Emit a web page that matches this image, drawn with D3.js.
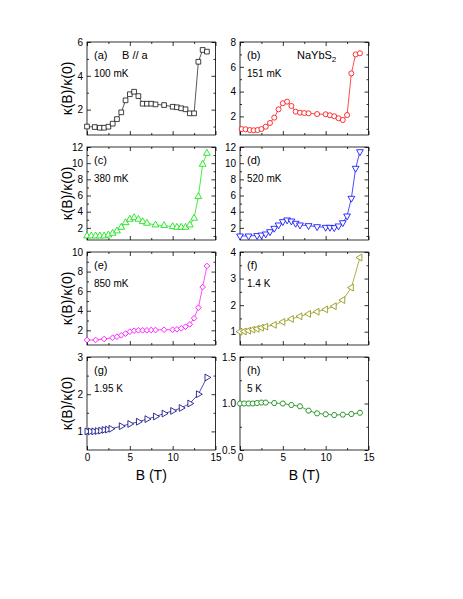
<!DOCTYPE html>
<head>
  <meta charset="utf-8">
  <title>kappa(B)/kappa(0)</title>
  <script src="https://d3js.org/d3.v7.min.js"></script>
  <style>
    body { margin: 0; background: #fff; }
    text { font-family: 'Liberation Sans', Arial, sans-serif; fill: #000; }
    .frame { fill: none; stroke: #000; stroke-width: 0.8; }
    .axis path.domain { display: none; }
    .axis line { stroke: #000; stroke-width: 0.8; }
    .axis text { font-size: 10px; font-family: 'Liberation Sans', Arial, sans-serif; }
    .axis-title { font-size: 14px; }
    .tag { font-size: 11px; }
    .temp { font-size: 10px; }
  </style>
</head>
<body>
<script>
// field values (T) and kappa(B)/kappa(0)
var fieldA = [0, 0.9, 1.5, 2, 2.5, 3, 3.5, 4, 4.5, 5, 5.5, 6, 6.5, 7, 7.5, 8, 9, 10, 10.5, 11, 11.5, 12, 12.5, 13, 13.5, 14];
var kappaA = [1.0, 0.97, 0.93, 0.93, 0.99, 1.17, 1.44, 1.84, 2.55, 2.91, 3.06, 2.8, 2.35, 2.35, 2.35, 2.31, 2.27, 2.17, 2.14, 2.08, 2.02, 1.78, 1.78, 4.83, 5.53, 5.43];

var fieldB = [0.2, 0.65, 1.15, 1.6, 2.05, 2.5, 3, 3.5, 4, 4.5, 5, 5.5, 6, 6.5, 7, 7.5, 8, 9, 10, 10.5, 11, 11.5, 12, 12.5, 13, 13.5, 14];
var kappaB = [0.98, 0.96, 0.9, 0.88, 0.9, 0.98, 1.17, 1.47, 1.9, 2.57, 3.06, 3.19, 2.84, 2.38, 2.3, 2.27, 2.25, 2.19, 2.17, 2.09, 2.01, 1.85, 1.71, 2.11, 5.47, 7.0, 7.09];

var fieldC = [0, 0.5, 1, 1.5, 2, 2.5, 3, 3.5, 4, 4.5, 5, 5.5, 6, 6.5, 7, 8, 9, 10, 10.5, 11, 11.5, 12, 12.5, 13, 13.5, 14];
var kappaC = [1.0, 1.0, 1.0, 1.0, 1.0, 1.12, 1.33, 1.62, 2.07, 2.64, 3.06, 3.26, 3.06, 2.77, 2.57, 2.36, 2.28, 2.15, 2.07, 2.07, 2.07, 2.36, 3.19, 5.86, 9.86, 11.22];

var fieldD = [0, 1, 2, 2.5, 3, 3.5, 4, 4.5, 5, 5.5, 6, 6.5, 7, 8, 9, 10, 10.5, 11, 11.5, 12, 12.5, 13, 13.5, 14];
var kappaD = [1.0, 1.0, 1.05, 1.12, 1.25, 1.53, 1.95, 2.36, 2.77, 2.98, 2.85, 2.57, 2.36, 2.28, 2.15, 2.07, 2.07, 2.03, 2.24, 2.64, 3.47, 5.66, 9.37, 11.42];

var fieldE = [0, 1, 2, 3, 3.5, 4, 4.5, 5, 5.5, 6, 6.5, 7, 7.5, 8, 9, 10, 10.5, 11, 11.5, 12, 12.5, 13, 13.5, 14];
var kappaE = [1.01, 1.01, 1.11, 1.25, 1.35, 1.49, 1.66, 1.86, 1.96, 2.0, 2.0, 2.0, 2.03, 2.03, 2.06, 2.06, 2.1, 2.2, 2.37, 2.61, 3.23, 4.31, 6.42, 8.57];

var fieldF = [0, 0.5, 1, 1.5, 2, 2.5, 3, 4, 5, 6, 7, 8, 9, 10, 11, 12, 13, 14];
var kappaF = [1.0, 1.01, 1.04, 1.08, 1.11, 1.15, 1.19, 1.26, 1.37, 1.48, 1.58, 1.67, 1.75, 1.84, 1.96, 2.19, 2.66, 3.79];

var fieldG = [0, 0.4, 0.8, 1.2, 1.6, 2.0, 2.4, 2.8, 4, 5, 6, 7, 8, 9, 10, 11, 12, 13, 14];
var kappaG = [1.0, 1.0, 1.0, 1.01, 1.02, 1.04, 1.05, 1.07, 1.14, 1.2, 1.26, 1.33, 1.4, 1.48, 1.55, 1.63, 1.75, 2.0, 2.45];

var fieldH = [0, 0.5, 1, 1.5, 2, 2.5, 3, 4, 5, 6, 7, 8, 9, 10, 11, 12, 13, 14];
var kappaH = [1.0, 1.0, 1.0, 1.0, 1.005, 1.01, 1.01, 1.005, 1.0, 0.984, 0.97, 0.923, 0.894, 0.884, 0.876, 0.88, 0.887, 0.9];

var tags = ["(a)", "(b)", "(c)", "(d)", "(e)", "(f)", "(g)", "(h)"];
var temps = ["100 mK", "151 mK", "380 mK", "520 mK", "850 mK", "1.4 K", "1.95 K", "5 K"];

// axis ranges and tick labels
var xMajor = [0, 5, 10, 15];
var xMinor = [2.5, 7.5, 12.5];
var yMin = 0.5;
var yMax = [6, 8, 12, 12, 10, 4, 3, 1.5];
var yMajor = [[2, 4, 6], [2, 4, 6, 8], [2, 4, 6, 8, 10, 12], [2, 4, 6, 8, 10, 12],
              [2, 4, 6, 8, 10], [1, 2, 3, 4], [1, 2, 3], [0.5, 1.0, 1.5]];
var yMinor = [[1, 3, 5], [1, 3, 5, 7], [1, 3, 5, 7, 9, 11], [1, 3, 5, 7, 9, 11],
              [1, 3, 5, 7, 9], [1.5, 2.5, 3.5], [1.5, 2.5], [0.75, 1.25]];

var fields = [fieldA, fieldB, fieldC, fieldD, fieldE, fieldF, fieldG, fieldH];
var kappas = [kappaA, kappaB, kappaC, kappaD, kappaE, kappaF, kappaG, kappaH];

// hexagon marker for the last panel
var symbolHexagon = {
  draw: function(ctx, size) {
    var r = Math.sqrt(size / 2.598);
    for (var i = 0; i < 6; i++) {
      var a = i * Math.PI / 3;
      if (i === 0) ctx.moveTo(r * Math.cos(a), r * Math.sin(a));
      else ctx.lineTo(r * Math.cos(a), r * Math.sin(a));
    }
    ctx.closePath();
  }
};

var looks = [
  {color: "#111111", sym: d3.symbolSquare,   size: 22, rot: 0},
  {color: "#ff0000", sym: d3.symbolCircle,   size: 20, rot: 0},
  {color: "#00e000", sym: d3.symbolTriangle, size: 20, rot: 0},
  {color: "#0000ff", sym: d3.symbolTriangle, size: 20, rot: 180},
  {color: "#ff00ff", sym: d3.symbolSquare,   size: 16, rot: 45},
  {color: "#8c8c00", sym: d3.symbolTriangle, size: 20, rot: -90},
  {color: "#000080", sym: d3.symbolTriangle, size: 20, rot: 90},
  {color: "#008000", sym: symbolHexagon,     size: 20, rot: 0}
];

var colX = [87, 240], rowY = [42, 147, 252, 357];
var pw = 128.5, ph = 93;

var svg = d3.select("body").append("svg")
  .attr("width", 463)
  .attr("height", 599);

tags.forEach(function(tag, i) {
  var col = i % 2, row = Math.floor(i / 2);
  var g = svg.append("g")
    .attr("transform", "translate(" + [colX[col], rowY[row]] + ")");

  var x = d3.scaleLinear().domain([0, 15]).range([0, pw]);
  var y = d3.scaleLinear().domain([yMin, yMax[i]]).range([ph, 0]);
  var yFmt = i === 7 ? d3.format(".1f") : d3.format("d");

  // inward ticks on all four sides
  g.append("g").attr("class", "axis").attr("transform", "translate(0," + ph + ")")
    .call(d3.axisBottom(x).tickValues(xMajor).tickSize(-4).tickPadding(4)
      .tickFormat(row === 3 ? d3.format("d") : ""));
  g.append("g").attr("class", "axis").attr("transform", "translate(0," + ph + ")")
    .call(d3.axisBottom(x).tickValues(xMinor).tickSize(-2).tickFormat(""));
  g.append("g").attr("class", "axis")
    .call(d3.axisTop(x).tickValues(xMajor).tickSize(-4).tickFormat(""));
  g.append("g").attr("class", "axis")
    .call(d3.axisTop(x).tickValues(xMinor).tickSize(-2).tickFormat(""));
  g.append("g").attr("class", "axis")
    .call(d3.axisLeft(y).tickValues(yMajor[i]).tickSize(-4).tickPadding(4).tickFormat(yFmt));
  g.append("g").attr("class", "axis")
    .call(d3.axisLeft(y).tickValues(yMinor[i]).tickSize(-2).tickFormat(""));
  g.append("g").attr("class", "axis").attr("transform", "translate(" + pw + ",0)")
    .call(d3.axisRight(y).tickValues(yMajor[i]).tickSize(-4).tickFormat(""));
  g.append("g").attr("class", "axis").attr("transform", "translate(" + pw + ",0)")
    .call(d3.axisRight(y).tickValues(yMinor[i]).tickSize(-2).tickFormat(""));
  g.selectAll(".axis").attr("font-family", null).attr("font-size", null);

  g.append("rect").attr("class", "frame")
    .attr("width", pw).attr("height", ph);

  var pts = fields[i].map(function(b, j) { return [b, kappas[i][j]]; });
  var look = looks[i];

  var line = d3.line()
    .x(function(d) { return x(d[0]); })
    .y(function(d) { return y(d[1]); });

  g.append("path")
    .attr("d", line(pts))
    .style("fill", "none")
    .style("stroke", look.color)
    .style("stroke-width", 0.7);

  g.append("g").selectAll("path")
    .data(pts)
    .enter().append("path")
      .attr("transform", function(d) { return "translate(" + [x(d[0]), y(d[1])] + ") rotate(" + look.rot + ")"; })
      .attr("d", d3.symbol(look.sym, look.size))
      .style("fill", "#fff")
      .style("stroke", look.color)
      .style("stroke-width", 0.8);

  g.append("text").attr("class", "tag")
    .attr("x", 7).attr("y", 16.5)
    .text(tag);
  g.append("text").attr("class", "temp")
    .attr("x", 7).attr("y", 34.5)
    .text(temps[i]);

  if (i === 0) {
    g.append("text").attr("class", "tag")
      .attr("x", 35).attr("y", 16.5)
      .text("B // a");
  }
  if (i === 1) {
    var t = g.append("text").attr("class", "tag")
      .attr("x", 57).attr("y", 16.5);
    t.append("tspan").text("NaYbS");
    t.append("tspan").attr("dy", 3).style("font-size", "8px").text("2");
  }

  if (col === 0) {
    svg.append("text").attr("class", "axis-title")
      .attr("text-anchor", "middle")
      .attr("transform", "translate(" + [67, rowY[row] + ph / 2] + ") rotate(-90)")
      .attr("dy", "0.35em")
      .text("κ(B)/κ(0)");
  }
  if (row === 3) {
    svg.append("text").attr("class", "axis-title")
      .attr("text-anchor", "middle")
      .attr("x", colX[col] + pw / 2)
      .attr("y", 480)
      .text("B (T)");
  }
});
</script>
</body>
